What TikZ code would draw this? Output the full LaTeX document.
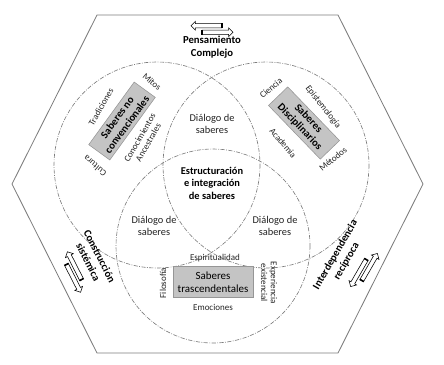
\documentclass[tikz,border=0pt]{standalone}
\usepackage{fontspec}
\setmainfont{Carlito}
\usepackage{tikz}
\usetikzlibrary{shapes.arrows}
\usepackage{xcolor}
\definecolor{cgris}{RGB}{125,125,125}
\definecolor{cfond}{RGB}{196,196,196}
\definecolor{cbord}{RGB}{150,150,150}
\definecolor{ctexte}{RGB}{35,35,35}

\tikzset{
  hexa/.style={cgris, line width=0.6pt},
  cercle/.style={cgris, line width=0.45pt, dash pattern=on 3pt off 1pt on 0.6pt off 1pt},
  boite/.style={draw=cbord, fill=cfond, align=center, inner sep=1pt,
    font=\fontsize{7.6}{8.6}\selectfont\bfseries},
  etiq/.style={ctexte, align=center, inner sep=0.5pt, font=\fontsize{6.4}{7}\selectfont},
  dialogue/.style={ctexte, align=center, font=\fontsize{7.4}{8.9}\selectfont},
  titre/.style={align=center, font=\fontsize{7.6}{9}\selectfont\bfseries},
  fleche/.style={single arrow, draw=black, fill=white, line width=0.4pt, inner sep=1.3pt,
    single arrow head extend=1.6pt, minimum height=22pt, transform shape},
}

\newcommand{\parfleches}[3]{%
  \begin{scope}[shift={#2}, rotate=#3]
    \node[fleche, shape border rotate=180] (#1-g) at (-4.5,-3.3) {};
    \node[fleche] (#1-d) at (4.5,3.3) {};
    \draw[line width=1.1pt] (#1-g.before tail) -- (#1-g.after tail);
    \draw[line width=1.1pt] (#1-d.before tail) -- (#1-d.after tail);
  \end{scope}}

\begin{document}
\begin{tikzpicture}[x=0.025cm, y=-0.025cm]
\useasboundingbox (0,0) rectangle (444,364);
\draw[hexa] (97,15) -- (338,15) -- (423,184) -- (338,353) -- (97,353) -- (12,184) -- cycle;

\coordinate (cA) at (157,165);
\coordinate (cB) at (266,165);
\coordinate (cC) at (213,246);
\draw[cercle] (cA) circle (103);
\draw[cercle] (cB) circle (103);
\draw[cercle] (cC) circle (97);

\parfleches{fp}{(212,29)}{0}
\node[titre] (pensee) at (212,47) {Pensamiento\\Complejo};
\parfleches{fc}{(74,272)}{-63}
\node[titre, rotate=-63] (construc) at (94,259) {Construcción\\sistémica};
\parfleches{fi}{(364,270)}{60}
\node[titre, rotate=60] (interdep) at (341,258) {Interdependencia\\recíproca};

\node[boite, rotate=54, minimum width=55pt, minimum height=18.5pt] (nonconv) at (122,121) {Saberes no\\convencionales};
\node[etiq, rotate=-40] (mitos) at (152,82) {Mitos};
\node[etiq, rotate=60] (tradic) at (101,107) {Tradiciones};
\node[etiq, rotate=60] (ancest) at (144,140) {Conocimientos\\Ancestrales};
\node[etiq, rotate=140] (cultura) at (95,166) {Cultura};

\node[boite, rotate=-46, minimum width=53pt, minimum height=19pt] (discip) at (304,123) {Saberes\\Disciplinarios};
\node[etiq, rotate=40] (ciencia) at (271,88) {Ciencia};
\node[etiq, rotate=-52] (episte) at (323,107) {Epistemología};
\node[etiq, rotate=-50] (academ) at (283,143) {Academia};
\node[etiq, rotate=40] (metodos) at (333,159) {Métodos};

\node[boite, font=\fontsize{7.8}{9}\selectfont, minimum width=57pt, minimum height=22pt] (trasc) at (213,282) {Saberes\\trascendentales};
\node[etiq] (espirit) at (215,258) {Espiritualidad};
\node[etiq] (emoc) at (213,307) {Emociones};
\node[etiq, rotate=90] (filos) at (163,283) {Filosofía};
\node[etiq, rotate=-90] (exper) at (269,283) {Experiencia\\existencial};

\node[dialogue] (dialAB) at (212,124) {Diálogo de\\saberes};
\node[dialogue] (dialAC) at (154,226) {Diálogo de\\saberes};
\node[dialogue] (dialBC) at (275,226) {Diálogo de\\saberes};
\node[dialogue, font=\fontsize{7.4}{8.9}\selectfont\bfseries, text=black] (centre) at (212,183) {Estructuración\\e integración\\de saberes};
\end{tikzpicture}
\end{document}
